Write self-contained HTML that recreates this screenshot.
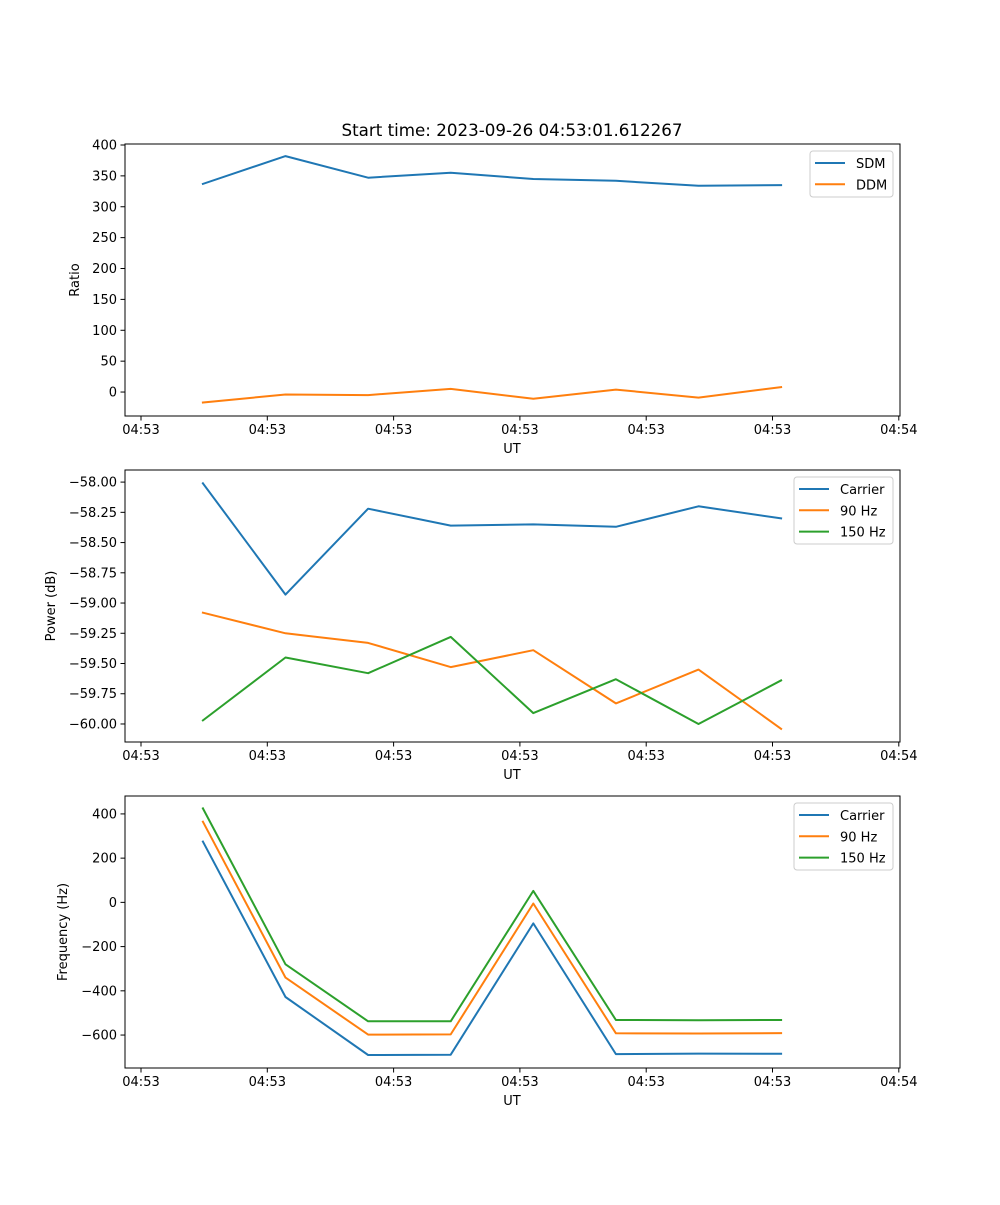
<!DOCTYPE html>
<html><head><meta charset="utf-8">
<style>
html,body{margin:0;padding:0;background:#fff;}
svg text{font-family:"DejaVu Sans","Liberation Sans",sans-serif;fill:#000;}
</style></head>
<body>
<svg id="fig" width="1000" height="1200" xmlns="http://www.w3.org/2000/svg">
<rect width="1000" height="1200" fill="#fff"/>
<text x="512" y="136" font-size="16.7" text-anchor="middle">Start time: 2023-09-26 04:53:01.612267</text>
</svg>
<script>
const xTickLabels = ["04:53","04:53","04:53","04:53","04:53","04:53","04:54"];
const xTickVals = [0,1,2,3,4,5,6];
const timeVals = [0.49,1.144,1.798,2.452,3.106,3.76,4.414,5.068];

const ratioSDM = [337,382,347,355,345,342,334,335];
const ratioDDM = [-17,-4,-5,5,-11,4,-9,8];
const ratioTicks = [0,50,100,150,200,250,300,350,400];

const powCarrier = [-58.01,-58.93,-58.22,-58.36,-58.35,-58.37,-58.20,-58.30];
const pow90 = [-59.08,-59.25,-59.33,-59.53,-59.39,-59.83,-59.55,-60.04];
const pow150 = [-59.97,-59.45,-59.58,-59.28,-59.91,-59.63,-60.00,-59.64];
const powTicks = [-60.00,-59.75,-59.50,-59.25,-59.00,-58.75,-58.50,-58.25,-58.00];

const freqCarrier = [275,-428,-690,-689,-95,-686,-684,-685];
const freq90 = [365,-340,-598,-597,-5,-592,-593,-591];
const freq150 = [425,-280,-538,-538,52,-532,-533,-532];
const freqTicks = [-600,-400,-200,0,200,400];

const NS="http://www.w3.org/2000/svg";
const svg=document.getElementById('fig');
const C1="#1f77b4",C2="#ff7f0e",C3="#2ca02c";
function mk(tag,attrs,parent){const e=document.createElementNS(NS,tag);for(const k in attrs)e.setAttribute(k,attrs[k]);(parent||svg).appendChild(e);return e;}
const L=125,R=900;
const xs=v=>141+v*126.3;

function panel(top,bot,ymin,ymax,ticks,fmt,ylabel,series,lx,lw,name){
  const g=mk('g',{});
  
  
  const ys=v=>bot-(v-ymin)/(ymax-ymin)*(bot-top);
  series.forEach(s=>{
    const p=mk('polyline',{points:s.d.map((v,i)=>xs(timeVals[i]).toFixed(1)+','+ys(v).toFixed(1)).join(' '),fill:'none',stroke:s.c,'stroke-width':2,'stroke-linejoin':'round','stroke-linecap':'square'},g);
    
    
  });
  const fr=mk('rect',{x:L,y:top,width:R-L,height:bot-top,fill:'none',stroke:'#000','stroke-width':1},g);
  
  
  xTickVals.forEach((v,i)=>{
    const x=xs(v);
    mk('line',{x1:x,y1:bot,x2:x,y2:bot+4.5,stroke:'#000'},g);
    const t=mk('text',{x:x,y:bot+18,'font-size':13,'text-anchor':'middle'},g);t.textContent=xTickLabels[i];
    
    
  });
  ticks.forEach(v=>{
    const y=ys(v);
    mk('line',{x1:L,y1:y,x2:L-4.5,y2:y,stroke:'#000'},g);
    const t=mk('text',{x:L-8,y:y+4.5,'font-size':13,'text-anchor':'end'},g);t.textContent=fmt(v);
    
    
  });
  const xl=mk('text',{x:512,y:bot+37,'font-size':13,'text-anchor':'middle'},g);xl.textContent='UT';
  
  
  const cy=(top+bot)/2;
  const yl=mk('text',{x:0,y:0,'font-size':13,'text-anchor':'middle',transform:`translate(${lx},${cy}) rotate(-90)`},g);yl.textContent=ylabel;
  
  
  const lg=mk('g',{},g);
  
  
  const bx=893-lw,by=top+7,bh=4+series.length*21;
  mk('rect',{x:bx,y:by,width:lw,height:bh,rx:3,fill:'#fff','fill-opacity':0.8,stroke:'#ccc'},lg);
  series.forEach((s,i)=>{
    const y=by+12+i*21.3;
    mk('line',{x1:bx+5,x2:bx+35,y1:y,y2:y,stroke:s.c,'stroke-width':2},lg);
    const t=mk('text',{x:bx+46,y:y+5,'font-size':13},lg);t.textContent=s.n;
    
    
  });
}
panel(144,416,-38.8,401.6,ratioTicks,v=>String(v),'Ratio',
  [{d:ratioSDM,c:C1,n:'SDM'},{d:ratioDDM,c:C2,n:'DDM'}],79,83,'ratio');
panel(470,742,-60.149,-57.90,powTicks,v=>'\u2212'+Math.abs(v).toFixed(2),'Power (dB)',
  [{d:powCarrier,c:C1,n:'Carrier'},{d:pow90,c:C2,n:'90 Hz'},{d:pow150,c:C3,n:'150 Hz'}],55,99,'power');
panel(796,1068,-749,481,freqTicks,v=>v<0?'\u2212'+Math.abs(v):String(v),'Frequency (Hz)',
  [{d:freqCarrier,c:C1,n:'Carrier'},{d:freq90,c:C2,n:'90 Hz'},{d:freq150,c:C3,n:'150 Hz'}],67,99,'frequency');
</script>
</body></html>
